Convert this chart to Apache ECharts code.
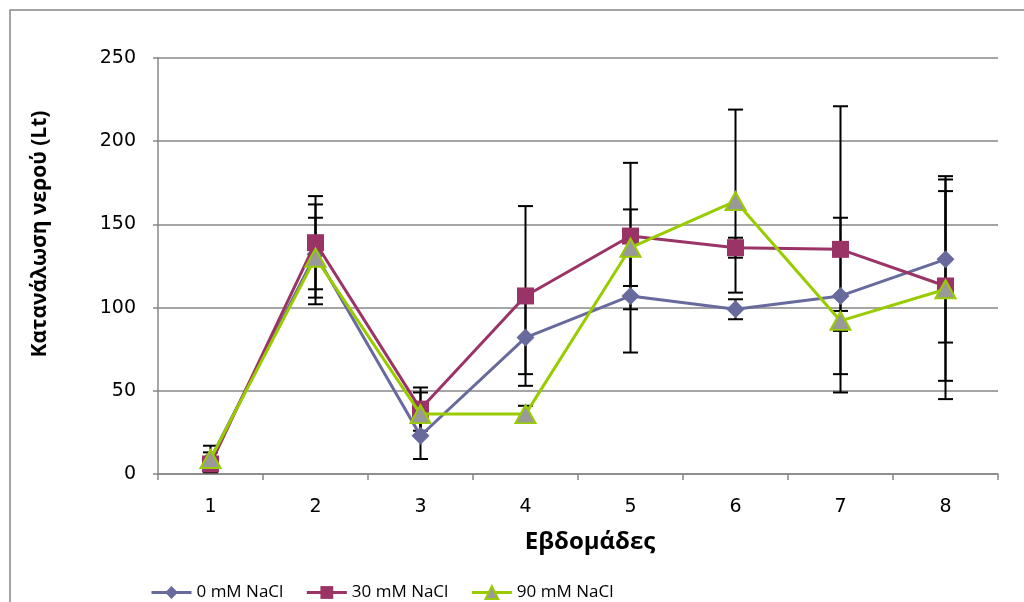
<!DOCTYPE html>
<html>
<head>
<meta charset="utf-8">
<script src="https://cdn.jsdelivr.net/npm/echarts@6/dist/echarts.min.js"></script>
<style>html,body{margin:0;padding:0;background:#fff}#c{width:1024px;height:602px}</style>
</head>
<body>
<div id="c"></div>
<script>
var weeks = ['1', '2', '3', '4', '5', '6', '7', '8'];
var seriesNames = ['0 mM NaCl', '30 mM NaCl', '90 mM NaCl'];
var mean0 = [9, 132, 23, 82, 107, 99, 107, 129];
var mean30 = [6, 139, 39, 107, 143, 136, 135, 113];
var mean90 = [9, 130, 36, 36, 136, 164, 92, 111];
var err0 = [8, 30, 14, 22, 34, 6, 47, 50];
var err30 = [3, 28, 13, 54, 44, 6, 86, 57];
var err90 = [4, 24, 13, 5, 23, 55, 6, 66];
var yTicks = [0, 50, 100, 150, 200, 250];
var yTitle = 'Κατανάλωση νερού (Lt)';
var xTitle = 'Εβδομάδες';

var colors = ['#686a9e', '#9b3466', '#99cc00'];
var means = [mean0, mean30, mean90];
var errs = [err0, err30, err90];
var symbols = ['diamond', 'rect', 'triangle'];
var symbolSizes = [[18, 18], [17, 17], [20, 18]];

function errData(m, e) {
  return m.map(function (v, i) { return [i, v - e[i], v + e[i]]; });
}

function renderErr(params, api) {
  var x = api.value(0);
  var lo = api.coord([x, api.value(1)]);
  var hi = api.coord([x, api.value(2)]);
  var w = 7.5;
  var st = { stroke: '#000', lineWidth: 2 };
  return {
    type: 'group',
    children: [
      { type: 'line', shape: { x1: lo[0], y1: lo[1], x2: hi[0], y2: hi[1] }, style: st },
      { type: 'line', shape: { x1: lo[0] - w, y1: lo[1], x2: lo[0] + w, y2: lo[1] }, style: st },
      { type: 'line', shape: { x1: hi[0] - w, y1: hi[1], x2: hi[0] + w, y2: hi[1] }, style: st }
    ]
  };
}

var series = [];
for (var k = 0; k < 3; k++) {
  series.push({
    type: 'custom',
    name: seriesNames[k] + ' err',
    renderItem: renderErr,
    data: errData(means[k], errs[k]),
    encode: { x: 0, y: [1, 2] },
    z: 1,
    silent: true
  });
}
for (var j = 0; j < 3; j++) {
  series.push({
    type: 'line',
    name: seriesNames[j],
    data: means[j],
    symbol: symbols[j],
    symbolSize: symbolSizes[j],
    showAllSymbol: true,
    z: 2 + j,
    lineStyle: { color: colors[j], width: 3 },
    itemStyle: j === 2 ? { color: '#999999', borderColor: '#99cc00', borderWidth: 2 } : { color: colors[j], borderWidth: 0 },
    color: colors[j],
    animation: false
  });
}

var chart = echarts.init(document.getElementById('c'));
chart.setOption({
  animation: false,
  grid: { left: 158, right: 26, top: 58, bottom: 128, containLabel: false },
  legend: {
    data: seriesNames,
    left: 145,
    top: 579,
    itemWidth: 40,
    itemHeight: 16,
    itemGap: 22,
    lineStyle: { width: 3 },
    textStyle: { fontFamily: 'Open Sans', fontSize: 17, color: '#000' }
  },
  xAxis: {
    type: 'category',
    data: weeks,
    boundaryGap: true,
    name: xTitle,
    nameLocation: 'middle',
    nameGap: 56,
    nameTextStyle: { fontFamily: 'Open Sans', fontWeight: 'bold', fontSize: 24, color: '#000', padding: [0, 0, 0, 24] },
    axisLine: { lineStyle: { color: '#878787', width: 1.5 } },
    axisTick: { show: true, length: 6, lineStyle: { color: '#878787', width: 1.5 } },
    axisLabel: { margin: 24, fontFamily: 'DejaVu Sans', fontSize: 19, color: '#000' },
    splitLine: { show: false }
  },
  yAxis: {
    type: 'value',
    min: yTicks[0],
    max: yTicks[yTicks.length - 1],
    interval: yTicks[1] - yTicks[0],
    axisLine: { show: true, lineStyle: { color: '#878787', width: 1.5 } },
    axisTick: { show: true, length: 5, lineStyle: { color: '#878787', width: 1.5 } },
    axisLabel: { margin: 22, fontFamily: 'DejaVu Sans', fontSize: 19, color: '#000' },
    splitLine: { lineStyle: { color: '#878787', width: 1.5 } }
  },
  graphic: [
    { type: 'rect', shape: { x: 10, y: 10, width: 1100, height: 700 }, style: { fill: 'none', stroke: '#878787', lineWidth: 1.5 }, silent: true, z: -1 },
    { type: 'text', x: 40, y: 234, rotation: Math.PI / 2, style: { text: yTitle, fontFamily: 'Open Sans', fontWeight: 'bold', fontSize: 21, fill: '#000', textAlign: 'center', textVerticalAlign: 'middle' } }
  ],
  series: series
});
</script>
</body>
</html>
